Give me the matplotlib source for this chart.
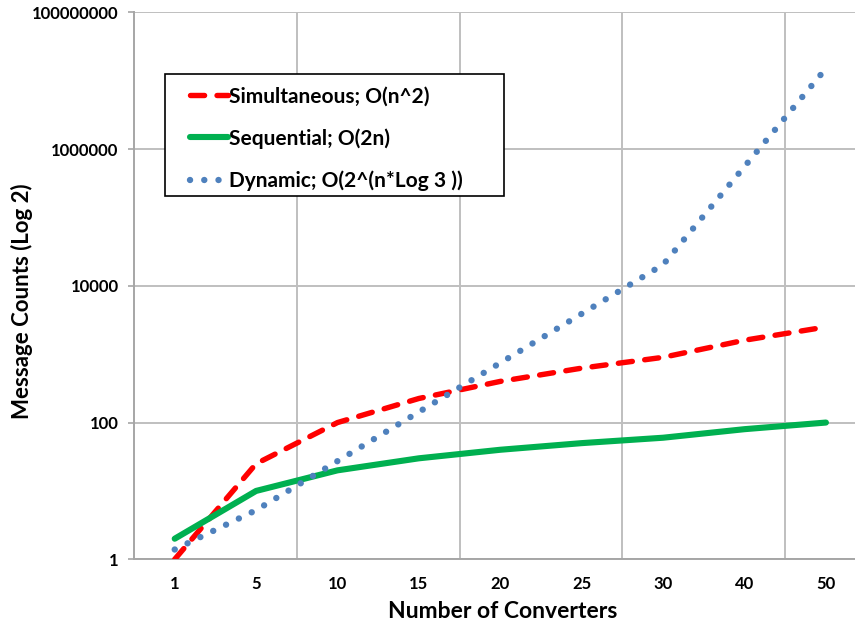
import matplotlib.pyplot as plt
from matplotlib.patches import Rectangle
import numpy as np

# converters on the category axis
converters = ["1", "5", "10", "15", "20", "25", "30", "40", "50"]

# message counts
simultaneous = [1, 25, 100, 225, 400, 625, 900, 1600, 2500]
sequential = [2, 10, 20, 30, 40, 50, 60, 80, 100]
dynamic = [1.39, 5.23, 27.3, 143, 746, 3900, 20400, 556000, 15100000]

plt.rcParams['font.family'] = ['Lato', 'DejaVu Sans']
plt.rcParams['font.weight'] = 'bold'

W, H = 855, 629
fig = plt.figure(figsize=(W / 100, H / 100), dpi=100)
ax = fig.add_axes([134 / W, 1 - 559.3 / H, (855 - 134) / W, (559.3 - 12.3) / H])

x = np.arange(len(converters))

ax.plot(x, simultaneous, color="#FF0000", lw=3.9, dashes=(2.6, 2.3),
        dash_capstyle="round", label="Simultaneous; O(n^2)", zorder=3)
ax.plot(x, sequential, color="#00B050", lw=4.4, solid_capstyle="round",
        label="Sequential; O(2n)", zorder=3)
ax.plot(x, dynamic, color="#4F81BD", lw=4.6, dashes=(0.01, 2.22),
        dash_capstyle="round", label="Dynamic; O(2^(n*Log 3 ))", zorder=3)

ax.set_yscale("log")
ax.set_ylim(1, 1e8)
ax.set_xlim(-0.5, 8.357)

yt = [1, 100, 10000, 1000000, 100000000]
ax.set_yticks(yt)
ax.set_yticklabels([str(v) for v in yt])
ax.yaxis.set_minor_locator(plt.NullLocator())
ax.set_xticks(x)
ax.set_xticklabels(converters)
ax.set_xticks([1.5, 3.5, 5.5, 7.5], minor=True)

ax.tick_params(axis="y", which="major", length=4, width=1.2, color="#A6A6A6",
               pad=7, labelsize=12)
ax.tick_params(axis="x", which="both", length=0, pad=12, labelsize=12)

ax.grid(True, axis="y", which="major", color="#BFBFBF", lw=1.4)
ax.grid(True, axis="x", which="minor", color="#BFBFBF", lw=1.4)
ax.set_axisbelow(True)

for s in ["top", "right"]:
    ax.spines[s].set_visible(False)
for s in ["left", "bottom"]:
    ax.spines[s].set_color("#A6A6A6")
    ax.spines[s].set_linewidth(1.4)

fig.text(503 / W, 1 - 612 / H, "Number of Converters", ha="center",
         va="center", fontsize=16.5, fontweight="bold")
fig.text(22 / W, 1 - 301 / H, "Message Counts (Log 2)", ha="center",
         va="center", rotation=90, fontsize=16, fontweight="bold")

# legend box drawn separately so its padding can match
box = Rectangle((165 / W, 1 - 196 / H), 339 / W, 122 / H, transform=fig.transFigure,
                facecolor="white", edgecolor="black", lw=1.2, zorder=4, clip_on=False)
ax.add_patch(box)
leg = ax.legend(loc="upper left", bbox_to_anchor=(190 / W, 1 - 86.5 / H),
                bbox_transform=fig.transFigure, borderaxespad=0,
                fontsize=15, handlelength=1.8, handletextpad=0.05,
                labelspacing=1.04, borderpad=0, frameon=False)
leg.set_zorder(5)

fig.savefig("out.png", dpi=100)
